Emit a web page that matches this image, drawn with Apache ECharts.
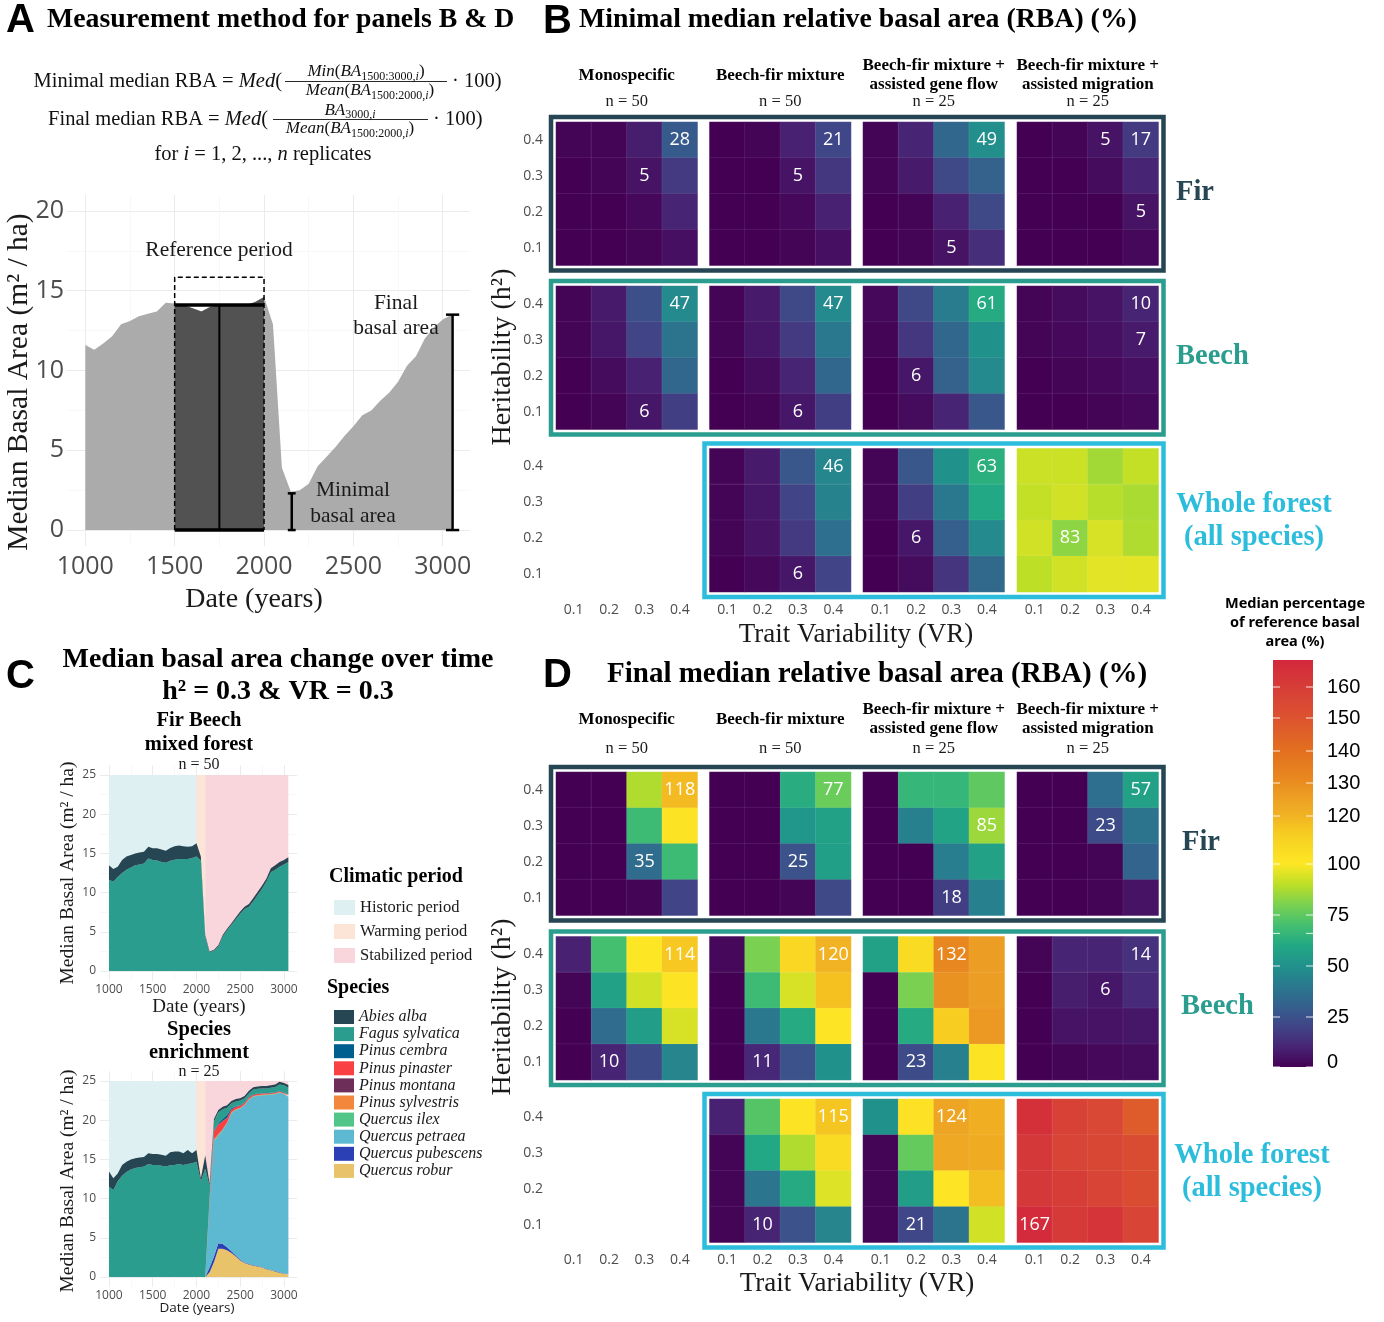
<!DOCTYPE html>
<html><head><meta charset="utf-8">
<script src="https://cdn.jsdelivr.net/npm/echarts@6/dist/echarts.min.js"></script>
<style>html,body{margin:0;padding:0;background:#fff}#c{width:1384px;height:1322px}</style>
</head><body><div id="c"></div>
<script>
// ================= DATA =================
const years = [1000,1050,1100,1150,1200,1250,1300,1350,1400,1450,1500,1550,1600,1650,1700,1750,1800,1850,1900,1950,2000,2050,2100,2150,2200,2250,2300,2350,2400,2450,2500,2550,2600,2650,2700,2750,2800,2850,2900,2950,3000,3050];
// Panel A: median basal area (m2/ha)
const basalA = [11.6,11.3,11.7,12.15,12.9,13.1,13.4,13.55,13.7,14.25,14.2,14.1,13.9,13.7,14.0,14.1,14.1,14.1,14.1,14.3,14.6,12.9,3.9,2.4,2.5,2.9,4.0,4.6,5.2,5.9,6.5,7.2,7.5,8.1,8.6,9.3,10.3,10.9,12.0,12.7,13.2,13.5];
const refPeriod = [1500, 2000];
const refMid = 1750;
const refMean = 14.1;
const refBoxTop = 15.85;
const errX = [2155, 3055];
const errLow = [0, 0];
const errHigh = [2.3, 13.5];
const errCap = [22, 37];

// Panel C: climatic periods
const periodNames = ['Historic period','Warming period','Stabilized period'];
const periodStart = [1000, 2000, 2100];
const periodEnd = [2000, 2100, 3050];
const bandTop = 25;
// Panel C1: Fir Beech mixed forest
const c1Fagus = [11.6,11.4,12.0,12.5,12.9,13.2,13.5,13.6,13.7,14.35,14.15,14.1,13.9,13.8,14.05,14.2,14.3,14.3,14.3,14.4,14.6,14.1,4.4,2.4,2.6,3.1,4.4,5.2,5.9,6.6,7.3,7.9,8.2,8.9,9.7,10.5,11.4,12.6,12.9,13.3,13.6,13.9];
const c1Abies = [1.9,1.6,1.3,1.65,1.7,1.6,1.5,1.5,1.5,1.5,1.5,1.55,1.6,1.55,1.65,1.7,1.7,1.6,1.55,1.5,1.7,0.5,0.2,0.1,0.1,0.2,0.2,0.2,0.2,0.25,0.3,0.3,0.35,0.4,0.4,0.4,0.4,0.5,0.6,0.6,0.55,0.6];
// Panel C2: Species enrichment
const c2Abies = [1.95,1.5,1.0,1.4,1.3,1.3,1.25,1.25,1.2,1.4,1.4,1.4,1.4,1.35,1.65,1.7,1.6,1.5,1.8,1.3,1.5,0.4,1.7,0.3,0.3,0.3,0.3,0.3,0.3,0.3,0.3,0.3,0.3,0.3,0.3,0.3,0.3,0.3,0.3,0.35,0.3,0.35];
const c2Fagus = [11.5,11.1,12.2,12.9,13.4,13.7,13.9,14.0,14.1,14.4,14.3,14.3,14.2,14.1,14.25,14.3,14.4,14.3,14.4,14.5,14.7,12.2,13.8,1.5,1.2,1.4,1.2,0.9,0.6,0.6,0.6,0.55,0.5,0.6,0.6,0.6,0.6,0.65,0.7,0.8,0.9,0.9];
const c2Cembra = [0,0,0,0,0,0,0,0,0,0,0,0,0,0,0,0,0,0,0,0,0,0,0,0,0.05,0.15,0.3,0.4,0.2,0.1,0.05,0.05,0.05,0.05,0.05,0.05,0.05,0.05,0.05,0.05,0.05,0.05];
const c2Pinaster = [0,0,0,0,0,0,0,0,0,0,0,0,0,0,0,0,0,0,0,0,0,0,0,0.5,1.0,1.2,1.0,0.6,0.35,0.3,0.25,0.2,0.2,0.15,0.15,0.15,0.1,0.1,0.1,0.1,0.1,0.1];
const c2Montana = [0,0,0,0,0,0,0,0,0,0,0,0,0,0,0,0,0,0,0,0,0,0,0,0,0.05,0.05,0.05,0,0,0,0,0,0,0,0,0,0,0,0,0,0,0];
const c2Sylvestris = [0,0,0,0,0,0,0,0,0,0,0,0,0,0,0,0,0,0,0,0,0,0,0,0.1,0.15,0.1,0.05,0.05,0.05,0.05,0.05,0.05,0.05,0.05,0.05,0.05,0.05,0.05,0.05,0.05,0.05,0.05];
const c2Ilex = [0,0,0,0,0,0,0,0,0,0,0,0,0,0,0,0,0,0,0,0,0,0,0,0,0.1,0.1,0.1,0.05,0.05,0.05,0.05,0.05,0.05,0.05,0.05,0.05,0.05,0.05,0.05,0.05,0.05,0.05];
const c2Petraea = [0,0,0,0,0,0,0,0,0,0,0,0,0,0,0,0,0,0,0,0,0,0,0,8.3,14.7,13.7,14.5,15.8,17.6,18.55,19.3,20.05,20.95,21.5,21.7,21.9,22.15,22.35,22.55,22.9,22.85,22.65];
const c2Pubescens = [0,0,0,0,0,0,0,0,0,0,0,0,0,0,0,0,0,0,0,0,0,0,0,0.6,0.7,0.7,0.6,0.4,0.25,0.15,0.1,0.05,0.05,0.05,0.05,0.05,0.05,0.05,0.05,0.05,0.05,0.05];
const c2Robur = [0,0,0,0,0,0,0,0,0,0,0,0,0,0,0,0,0,0,0,0,0,0,0,0.6,1.9,3.6,3.6,3.4,3.05,2.6,2.1,1.8,1.6,1.45,1.35,1.2,1.0,0.85,0.7,0.55,0.4,0.3];
const speciesNames = ['Abies alba','Fagus sylvatica','Pinus cembra','Pinus pinaster','Pinus montana','Pinus sylvestris','Quercus ilex','Quercus petraea','Quercus pubescens','Quercus robur'];

// Panels B & D: heatmaps. Each facet: rows h2 = 0.4,0.3,0.2,0.1 ; cols VR = 0.1..0.4
const vrLabels = ['0.1','0.2','0.3','0.4'];
const hLabels = ['0.1','0.2','0.3','0.4'];
const scenarioNames = ['Monospecific','Beech-fir mixture','Beech-fir mixture +\nassisted gene flow','Beech-fir mixture +\nassisted migration'];
const scenarioN = ['n = 50','n = 50','n = 25','n = 25'];
const groupNames = ['Fir','Beech','Whole forest\n(all species)'];

const minFir = [
  [[1,1,8,28],[0,1,5,17],[0,0,2,10],[0,0,1,4]],
  [[0,1,9,21],[0,0,5,16],[0,0,2,9],[0,0,1,4]],
  [[1,10,33,49],[1,7,22,31],[0,1,9,22],[0,1,5,13]],
  [[0,1,5,17],[0,0,3,10],[0,0,0,5],[0,0,0,2]]
];
const minBeech = [
  [[1,7,24,47],[1,6,20,38],[0,3,9,33],[0,1,6,18]],
  [[1,7,22,47],[1,6,17,40],[0,3,10,33],[0,1,6,18]],
  [[2,22,41,61],[1,16,33,50],[0,6,31,47],[0,3,10,27]],
  [[1,3,5,10],[1,2,4,7],[0,1,2,4],[0,0,1,2]]
];
const minWhole = [
  null,
  [[1,7,27,46],[1,6,20,44],[1,5,17,36],[0,2,6,20]],
  [[1,27,50,63],[1,18,40,60],[0,6,30,47],[0,3,15,34]],
  [[92,92,86,91],[91,93,89,87],[93,83,94,88],[90,93,96,96]]
];
const finFir = [
  [[0,0,88,118],[0,0,68,102],[0,0,35,68],[0,0,1,20]],
  [[0,0,62,77],[0,0,52,57],[0,0,25,56],[0,0,1,22]],
  [[0,66,66,75],[0,43,58,85],[0,0,42,57],[0,0,18,43]],
  [[0,0,36,57],[0,0,23,38],[0,0,1,32],[0,0,1,5]]
];
const finBeech = [
  [[9,70,100,114],[1,57,93,102],[0,35,55,94],[0,10,23,45]],
  [[2,80,108,120],[0,68,94,116],[0,40,61,101],[0,11,25,50]],
  [[57,106,132,126],[0,80,129,126],[0,61,112,127],[0,23,43,102]],
  [[1,10,10,14],[0,8,6,12],[0,5,5,6],[0,1,2,3]]
];
const finWhole = [
  null,
  [[9,73,102,115],[1,60,88,106],[1,39,61,95],[1,10,25,45]],
  [[50,103,124,121],[1,76,123,122],[1,55,101,117],[1,21,38,93]],
  [[165,158,155,147],[162,157,156,153],[162,160,157,153],[167,161,163,157]]
];
// labelled cells: [scenario, rowIndex(0 = h2 0.4), colIndex(0 = VR 0.1)]
const labMinFir = [[0,0,3],[0,1,2],[1,0,3],[1,1,2],[2,0,3],[2,3,2],[3,0,2],[3,0,3],[3,2,3]];
const labMinBeech = [[0,0,3],[0,3,2],[1,0,3],[1,3,2],[2,0,3],[2,2,1],[3,0,3],[3,1,3]];
const labMinWhole = [[1,0,3],[1,3,2],[2,0,3],[2,2,1],[3,2,1]];
const labFinFir = [[0,0,3],[0,2,2],[1,0,3],[1,2,2],[2,1,3],[2,3,2],[3,0,3],[3,1,2]];
const labFinBeech = [[0,0,3],[0,3,1],[1,0,3],[1,3,1],[2,0,2],[2,3,1],[3,0,3],[3,1,2]];
const labFinWhole = [[1,0,3],[1,3,1],[2,0,2],[2,3,1],[3,3,0]];

// colour scale
const cbTickValues = [0,25,50,75,100,120,130,140,150,160];
const cbMax = 168;

// ================= STYLE / LAYOUT =================
const SERIF = "'Liberation Serif', 'DejaVu Serif', serif";
const SANS = "'Open Sans', 'Noto Sans', sans-serif";
const TXT = '#1a1a1a';
const AX = '#4d4d4d';
const periodColors = ['#dff0f3','#fce4d6','#f9d5dc'];
const speciesColors = {'Abies alba':'#264653','Fagus sylvatica':'#2a9d8f','Pinus cembra':'#005f8f','Pinus pinaster':'#f94144','Pinus montana':'#6d2e5a','Pinus sylvestris':'#f3873b','Quercus ilex':'#52c588','Quercus petraea':'#5db9d1','Quercus pubescens':'#2c40b5','Quercus robur':'#e8c36a'};
const groupColors = ['#264653','#2a9d8f','#2bbddb'];
const cmapStops = [[0,'#440154'],[10,'#482475'],[20,'#414487'],[30,'#355f8d'],[40,'#2a788e'],[50,'#21918c'],[60,'#22a884'],[70,'#44bf70'],[80,'#7ad151'],[90,'#bddf26'],[100,'#fde725'],[110,'#f8d322'],[115,'#f5c521'],[120,'#f1b323'],[125,'#eda124'],[132,'#e8861f'],[140,'#e3701f'],[150,'#dc5330'],[160,'#d63d37'],[168,'#d3283c']];
const cbAnchors = [[0,1067],[25,1017],[50,966],[75,915],[100,864],[120,816],[130,783],[140,751],[150,718],[160,687],[168,660]];

function hx(h){return [parseInt(h.slice(1,3),16),parseInt(h.slice(3,5),16),parseInt(h.slice(5,7),16)];}
function colorAt(v){
  for (let k=0;k<cmapStops.length-1;k++){
    const a=cmapStops[k][0], b=cmapStops[k+1][0];
    if (v<=b){ const t=(v-a)/(b-a); const A=hx(cmapStops[k][1]), B=hx(cmapStops[k+1][1]);
      return 'rgb('+A.map((x,j)=>Math.round(x+(B[j]-x)*t)).join(',')+')'; }
  }
  return cmapStops[cmapStops.length-1][1];
}
function cbY(v){
  for (let k=0;k<cbAnchors.length-1;k++){
    const a=cbAnchors[k], b=cbAnchors[k+1];
    if (v<=b[0]) return a[1]+(b[1]-a[1])*(v-a[0])/(b[0]-a[0]);
  }
  return cbAnchors[cbAnchors.length-1][1];
}

const G = [];
function T(x,y,text,o){
  o=o||{};
  const al=o.align||'left';
  G.push({type:'text', x:x, y:y, rotation:o.rot||0, z:100, silent:true,
    style:{text:text, fill:o.color||TXT, fontSize:o.size||16, fontFamily:o.family||SERIF,
      fontWeight:o.weight||'normal', fontStyle:o.fstyle||'normal',
      textAlign:al, align:al, textVerticalAlign:'middle', verticalAlign:'middle',
      lineHeight:o.lh, rich:o.rich}});
}
function L(x1,y1,x2,y2,stroke,w){G.push({type:'line',z:100,silent:true,shape:{x1,y1,x2,y2},style:{stroke:stroke,lineWidth:w}});}
function R(x,y,w,h,stroke,lw){G.push({type:'rect',z:100,silent:true,shape:{x,y,width:w,height:h},style:{fill:'none',stroke:stroke,lineWidth:lw}});}

const grids=[], xAxes=[], yAxes=[], series=[], hmIdx=[];
const plainNum = v => String(v);

function valueAxes(gi, xmin,xmax,ymin,ymax, fs, xm, ym){
  xAxes.push({gridIndex:gi,type:'value',min:xmin,max:xmax,splitNumber:5,
    axisLine:{show:false},axisTick:{show:false},
    axisLabel:{color:AX,fontSize:fs,fontFamily:SANS,margin:xm,showMinLabel:false,showMaxLabel:false,formatter:plainNum},
    splitLine:{show:true,showMinLine:false,showMaxLine:false,lineStyle:{color:'#ebebeb',width:1}},
    minorTick:{show:false,splitNumber:2},minorSplitLine:{show:true,lineStyle:{color:'#f6f6f6',width:0.8}}});
  yAxes.push({gridIndex:gi,type:'value',min:ymin,max:ymax,splitNumber:5,
    axisLine:{show:false},axisTick:{show:false},
    axisLabel:{color:AX,fontSize:fs,fontFamily:SANS,margin:ym,showMinLabel:false,showMaxLabel:false,formatter:plainNum},
    splitLine:{show:true,showMinLine:false,showMaxLine:false,lineStyle:{color:'#ebebeb',width:1}},
    minorTick:{show:false,splitNumber:2},minorSplitLine:{show:true,lineStyle:{color:'#f6f6f6',width:0.8}}});
}

// ---------- Panel A ----------
grids.push({left:67,top:195,width:403,height:351});
valueAxes(0, 897.5,3152.5,-1,21, 25, 8, 3);
series.push({type:'line',xAxisIndex:0,yAxisIndex:0,data:years.map((y,i)=>[y,basalA[i]]),symbol:'none',silent:true,
  lineStyle:{width:0},areaStyle:{color:'#ababab',opacity:1},z:2});
series.push({type:'line',xAxisIndex:0,yAxisIndex:0,
  data:years.map((y,i)=>[y,basalA[i]]).filter(p=>p[0]>=refPeriod[0]&&p[0]<=refPeriod[1]),
  symbol:'none',silent:true,lineStyle:{width:0},areaStyle:{color:'#525252',opacity:1},z:3});
series.push({type:'line',xAxisIndex:0,yAxisIndex:0,data:[[refPeriod[0],refMean],[refPeriod[1],refMean]],symbol:'none',silent:true,lineStyle:{color:'#000',width:3.5},z:4});
series.push({type:'line',xAxisIndex:0,yAxisIndex:0,data:[[refPeriod[0],0],[refPeriod[1],0]],symbol:'none',silent:true,lineStyle:{color:'#000',width:3.5},z:4});
series.push({type:'line',xAxisIndex:0,yAxisIndex:0,data:[[refMid,0],[refMid,refMean]],symbol:'none',silent:true,lineStyle:{color:'#000',width:2},z:4});
series.push({type:'line',xAxisIndex:0,yAxisIndex:0,data:[[refPeriod[0],0],[refPeriod[0],refBoxTop],[refPeriod[1],refBoxTop],[refPeriod[1],0]],symbol:'none',silent:true,lineStyle:{color:'#000',width:1.5,type:[5,3]},z:5});
series.push({type:'custom',xAxisIndex:0,yAxisIndex:0,silent:true,z:5,encode:{x:0,y:[1,2]},
  data:errX.map((x,i)=>[x,errLow[i],errHigh[i],errCap[i]]),
  renderItem:function(params,api){
    const x=api.value(0),lo=api.value(1),hi=api.value(2),cap=api.value(3);
    const a=api.coord([x,lo]),b=api.coord([x,hi]),c1=api.coord([x-cap,hi]),c2=api.coord([x+cap,hi]),d1=api.coord([x-cap,lo]),d2=api.coord([x+cap,lo]);
    const st={stroke:'#000',lineWidth:2.5};
    return {type:'group',children:[
      {type:'line',shape:{x1:a[0],y1:a[1],x2:b[0],y2:b[1]},style:st},
      {type:'line',shape:{x1:c1[0],y1:c1[1],x2:c2[0],y2:c2[1]},style:st},
      {type:'line',shape:{x1:d1[0],y1:d1[1],x2:d2[0],y2:d2[1]},style:st}]};
  }});

// ---------- Panel C ----------
function bandSeries(gi,k){
  return {type:'custom',name:periodNames[k],xAxisIndex:gi,yAxisIndex:gi,silent:true,z:1,
    color:periodColors[k],itemStyle:{color:periodColors[k]},encode:{x:[0,1],y:2},
    data:[[periodStart[k],periodEnd[k],bandTop]],
    renderItem:function(params,api){
      const p0=api.coord([api.value(0),api.value(2)]), p1=api.coord([api.value(1),0]);
      return {type:'rect',shape:{x:p0[0],y:p0[1],width:p1[0]-p0[0],height:p1[1]-p0[1]},style:{fill:api.visual('color')}};
    }};
}
// value first so that the stacked dimension is the basal area (not the year)
function areaSeries(gi,name,arr,stack){
  const col=speciesColors[name];
  return {type:'line',name:name,xAxisIndex:gi,yAxisIndex:gi,stack:stack,symbol:'none',silent:true,z:2,
    color:col,itemStyle:{color:col},lineStyle:{width:0},areaStyle:{color:col,opacity:1},
    encode:{x:1,y:0},
    data:years.map((y,i)=>[arr[i],y])};
}
grids.push({left:100,top:765.2,width:197.3,height:215.6});
valueAxes(1, 897.5,3152.5,-1.25,26.25, 12, 3, 4);
for (let k=0;k<3;k++) series.push(bandSeries(1,k));
series.push(areaSeries(1,'Fagus sylvatica',c1Fagus,'c1'));
series.push(areaSeries(1,'Abies alba',c1Abies,'c1'));

grids.push({left:100,top:1071.2,width:197.3,height:215.6});
valueAxes(2, 897.5,3152.5,-1.25,26.25, 12, 3, 4);
for (let k=0;k<3;k++) series.push(bandSeries(2,k));
const c2Stack = [['Quercus robur',c2Robur],['Quercus pubescens',c2Pubescens],['Quercus petraea',c2Petraea],['Quercus ilex',c2Ilex],['Pinus sylvestris',c2Sylvestris],['Pinus montana',c2Montana],['Pinus pinaster',c2Pinaster],['Pinus cembra',c2Cembra],['Fagus sylvatica',c2Fagus],['Abies alba',c2Abies]];
c2Stack.forEach(s=>series.push(areaSeries(2,s[0],s[1],'c2')));

// ---------- Panels B & D (heatmaps) ----------
const colLeft=[556,709.5,863,1017], colW=141.5, rowH=143.5;
const panels=[
  {top:[122,286,448.5], data:[minFir,minBeech,minWhole], labs:[labMinFir,labMinBeech,labMinWhole]},
  {top:[772,936.5,1099], data:[finFir,finBeech,finWhole], labs:[labFinFir,labFinBeech,labFinWhole]}
];
panels.forEach(P=>{
  for (let r=0;r<3;r++){
    for (let c=0;c<4;c++){
      const gi=grids.length;
      grids.push({left:colLeft[c],top:P.top[r],width:colW,height:rowH});
      xAxes.push({gridIndex:gi,type:'category',data:vrLabels,axisLine:{show:false},axisTick:{show:false},splitLine:{show:false},
        axisLabel:{show:r===2,interval:0,color:AX,fontSize:14,fontFamily:SANS,margin:11}});
      yAxes.push({gridIndex:gi,type:'category',data:hLabels,axisLine:{show:false},axisTick:{show:false},splitLine:{show:false},
        axisLabel:{show:c===0,interval:0,color:AX,fontSize:14,fontFamily:SANS,margin:13}});
      const m=P.data[r][c];
      if (!m) continue;
      const items=[];
      for (let ri=0;ri<4;ri++) for (let ci=0;ci<4;ci++){
        const lab=P.labs[r].some(l=>l[0]===c&&l[1]===ri&&l[2]===ci);
        const v=[ci,3-ri,m[ri][ci]];
        items.push(lab?{value:v,label:{show:true}}:v);
      }
      series.push({type:'heatmap',xAxisIndex:gi,yAxisIndex:gi,data:items,silent:true,
        itemStyle:{borderColor:'rgba(255,255,255,0.13)',borderWidth:0.6},
        emphasis:{disabled:true},
        label:{show:false,color:'#fff',fontSize:18,fontFamily:SANS,formatter:p=>p.value[2]}});
      hmIdx.push(series.length-1);
    }
  }
  for (let r=0;r<3;r++){
    const x0=(r===2?colLeft[1]:colLeft[0])-5, x1=colLeft[3]+colW+5;
    const y0=P.top[r]-5, y1=P.top[r]+rowH+5;
    R(x0,y0,x1-x0,y1-y0,groupColors[r],4.5);
  }
});

const cbColors=[]; for (let v=0; v<=cbMax; v++) cbColors.push(colorAt(v));

// ================= TEXTS =================
const LET="'Liberation Sans', sans-serif";
T(6,21,'A',{size:40,weight:'bold',family:LET,color:'#000'});
T(543,22,'B',{size:40,weight:'bold',family:LET,color:'#000'});
T(6,677,'C',{size:40,weight:'bold',family:LET,color:'#000'});
T(543,676,'D',{size:40,weight:'bold',family:LET,color:'#000'});
T(47,20,'Measurement method for panels B & D',{size:27.8,weight:'bold',color:'#000'});
T(579,20,'Minimal median relative basal area (RBA) (%)',{size:27.8,weight:'bold',color:'#000'});
T(607,675,'Final median relative basal area (RBA) (%)',{size:29,weight:'bold',color:'#000'});
T(278,660,'Median basal area change over time',{size:28,weight:'bold',color:'#000',align:'center'});
T(278,692,'h² = 0.3 & VR = 0.3',{size:28,weight:'bold',color:'#000',align:'center'});

// Formulas
function mrich(sz,ss){
  return {
    r:{fontFamily:SERIF,fontSize:sz,fill:'#111',lineHeight:sz+4},
    i:{fontFamily:SERIF,fontSize:sz,fontStyle:'italic',fill:'#111',lineHeight:sz+4},
    s:{fontFamily:SERIF,fontSize:ss,fill:'#111',lineHeight:8,verticalAlign:'bottom'},
    si:{fontFamily:SERIF,fontSize:ss,fontStyle:'italic',fill:'#111',lineHeight:8,verticalAlign:'bottom'}
  };
}
const RM=mrich(20.5,14), RF=mrich(17,12);
T(282,82,'{r|Minimal median RBA = }{i|Med}{r|(}',{rich:RM,align:'right'});
T(366,72,'{i|Min}{r|(}{i|BA}{s|1500:3000,}{si|i}{r|)}',{rich:RF,align:'center'});
L(285,81.5,447,81.5,'#111',0.9);
T(370,91,'{i|Mean}{r|(}{i|BA}{s|1500:2000,}{si|i}{r|)}',{rich:RF,align:'center'});
T(452,82,'{r|· 100)}',{rich:RM});
T(268,120,'{r|Final median RBA = }{i|Med}{r|(}',{rich:RM,align:'right'});
T(350,110.5,'{i|BA}{s|3000,}{si|i}',{rich:RF,align:'center'});
L(273,119.5,428,119.5,'#111',0.9);
T(350,129,'{i|Mean}{r|(}{i|BA}{s|1500:2000,}{si|i}{r|)}',{rich:RF,align:'center'});
T(433,120,'{r|· 100)}',{rich:RM});
T(263,155,'{r|for }{i|i}{r| = 1, 2, ..., }{i|n}{r| replicates}',{rich:RM,align:'center'});

// Panel A annotations & axis titles
T(219,250,'Reference period',{size:21.5,align:'center'});
T(396,303,'Final',{size:21.5,align:'center'});
T(396,328,'basal area',{size:21.5,align:'center'});
T(353,490,'Minimal',{size:21.5,align:'center'});
T(353,516,'basal area',{size:21.5,align:'center'});
T(254,600,'Date (years)',{size:28,align:'center'});
T(19,382,'Median Basal Area (m² / ha)',{size:29.5,align:'center',rot:Math.PI/2});

// Panel C texts
T(199,721,'Fir Beech',{size:20.5,weight:'bold',align:'center',color:'#000'});
T(199,745,'mixed forest',{size:20.5,weight:'bold',align:'center',color:'#000'});
T(199,765,'n = 50',{size:16,align:'center'});
T(199,1030,'Species',{size:20.5,weight:'bold',align:'center',color:'#000'});
T(199,1053,'enrichment',{size:20.5,weight:'bold',align:'center',color:'#000'});
T(199,1072,'n = 25',{size:16,align:'center'});
T(199,1007,'Date (years)',{size:19,align:'center'});
T(197,1308,'Date (years)',{size:13.5,align:'center',family:SANS});
T(68,873,'Median Basal Area (m² / ha)',{size:19.5,align:'center',rot:Math.PI/2});
T(68,1181,'Median Basal Area (m² / ha)',{size:19.5,align:'center',rot:Math.PI/2});
T(329,877,'Climatic period',{size:20,weight:'bold',color:'#000'});
T(327,988,'Species',{size:20,weight:'bold',color:'#000'});

// Heatmap headers / titles
const colCx=colLeft.map(l=>l+colW/2);
[[0,76,66,85,102],[650,720,710,729,749]].forEach(h=>{
  for (let c=0;c<4;c++){
    if (scenarioNames[c].indexOf('\n')>=0){
      const parts=scenarioNames[c].split('\n');
      T(colCx[c],h[2],parts[0],{size:17,weight:'bold',align:'center',color:'#000'});
      T(colCx[c],h[3],parts[1],{size:17,weight:'bold',align:'center',color:'#000'});
    } else {
      T(colCx[c],h[1],scenarioNames[c],{size:17,weight:'bold',align:'center',color:'#000'});
    }
    T(colCx[c],h[4],scenarioN[c],{size:16.5,align:'center'});
  }
});
T(503,357,'Heritability (h²)',{size:28,align:'center',rot:Math.PI/2});
T(503,1007,'Heritability (h²)',{size:28,align:'center',rot:Math.PI/2});
T(856,635,'Trait Variability (VR)',{size:27,align:'center'});
T(857,1284,'Trait Variability (VR)',{size:27,align:'center'});
T(1176,193,'Fir',{size:28.5,weight:'bold',color:groupColors[0]});
T(1176,357,'Beech',{size:28.5,weight:'bold',color:groupColors[1]});
T(1254,505,'Whole forest',{size:28.5,weight:'bold',color:groupColors[2],align:'center'});
T(1254,538,'(all species)',{size:28.5,weight:'bold',color:groupColors[2],align:'center'});
T(1182,843,'Fir',{size:28.5,weight:'bold',color:groupColors[0]});
T(1181,1007,'Beech',{size:28.5,weight:'bold',color:groupColors[1]});
T(1252,1156,'Whole forest',{size:28.5,weight:'bold',color:groupColors[2],align:'center'});
T(1252,1189,'(all species)',{size:28.5,weight:'bold',color:groupColors[2],align:'center'});

// Colour bar
const CBF="'Noto Sans', sans-serif";
T(1295,604,'Median percentage',{size:14.5,weight:'bold',family:CBF,align:'center',color:'#000'});
T(1295,623,'of reference basal',{size:14.5,weight:'bold',family:CBF,align:'center',color:'#000'});
T(1295,642,'area (%)',{size:14.5,weight:'bold',family:CBF,align:'center',color:'#000'});
const cbTop=cbY(cbMax), cbBot=cbY(0);
G.push({type:'rect',z:99,silent:true,shape:{x:1273,y:cbTop,width:40,height:cbBot-cbTop},
  style:{fill:new echarts.graphic.LinearGradient(0,1,0,0,cmapStops.map(s=>({offset:(cbBot-cbY(s[0]))/(cbBot-cbTop),color:s[1]})))}});
cbTickValues.concat([66]).forEach(v=>{
  const y=cbY(v);
  L(1273,y,1280,y,'rgba(255,255,255,0.85)',1);
  L(1306,y,1313,y,'rgba(255,255,255,0.85)',1);
});
cbTickValues.forEach(v=>{
  const y=Math.min(cbY(v),1062);
  T(1327,y,String(v),{size:20,family:LET,color:'#000'});
});

// ================= OPTION =================
const option={
  animation:false,
  backgroundColor:'#fff',
  grid:grids, xAxis:xAxes, yAxis:yAxes, series:series,
  visualMap:{type:'continuous',show:false,min:0,max:cbMax,dimension:2,seriesIndex:hmIdx,inRange:{color:cbColors}},
  legend:[
    {data:periodNames,left:329,top:894,orient:'vertical',icon:'rect',itemWidth:21,itemHeight:15,itemGap:7,selectedMode:false,
     textStyle:{fontFamily:SERIF,fontSize:16.5,color:TXT}},
    {data:speciesNames,left:329,top:1004,orient:'vertical',icon:'rect',itemWidth:20,itemHeight:14,itemGap:1.1,selectedMode:false,
     textStyle:{fontFamily:SERIF,fontSize:16,fontStyle:'italic',color:TXT}}
  ],
  graphic:{elements:G}
};
const chart=echarts.init(document.getElementById('c'),null,{renderer:'canvas',width:1384,height:1322});
chart.setOption(option);
</script></body></html>
